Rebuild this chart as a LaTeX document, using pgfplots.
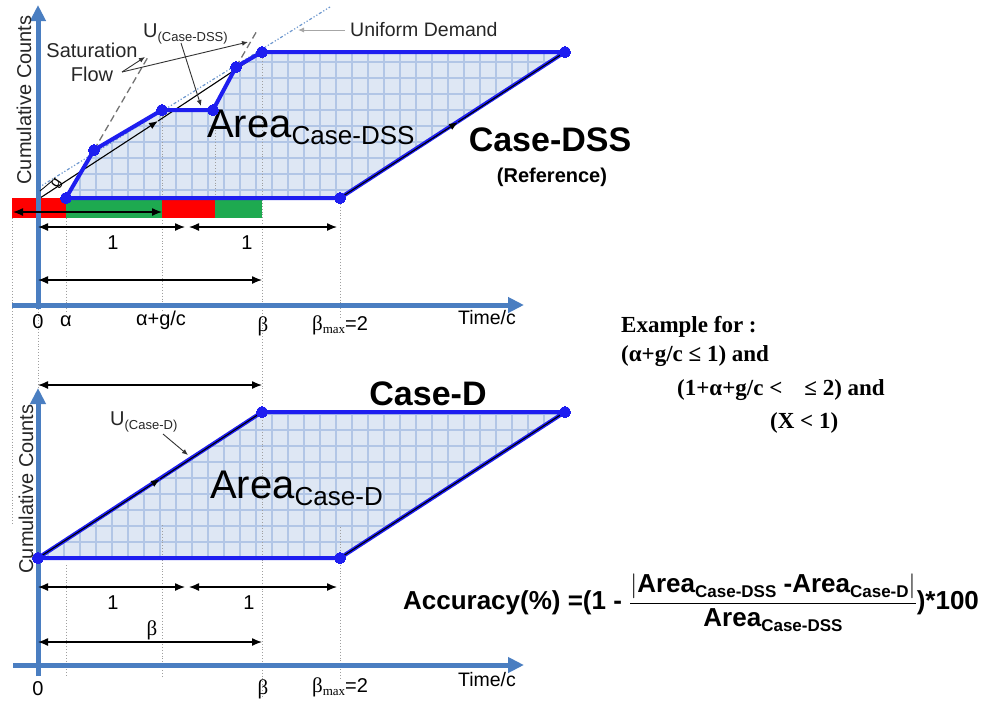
\documentclass[border=0pt]{standalone}
\usepackage{pgfplots}
\pgfplotsset{compat=1.18}
\usepackage{amsmath}
\usepackage{fontspec}
\setmainfont{Liberation Sans}
\newfontfamily\seriffont{Liberation Serif}
\usetikzlibrary{arrows.meta,patterns.meta}
\definecolor{axblue}{RGB}{74,126,193}
\definecolor{pblue}{RGB}{30,30,240}
\definecolor{lfill}{RGB}{222,231,244}
\definecolor{lgrid}{RGB}{178,198,230}
\definecolor{rred}{RGB}{255,0,0}
\definecolor{ggreen}{RGB}{30,170,80}
\newcommand{\fs}[1]{\fontsize{#1}{#1}\selectfont}
\newcommand{\subs}[1]{\raisebox{-5pt}{\fs{17}#1}}
\begin{document}
\begin{tikzpicture}
\begin{axis}[width=1000pt,height=697pt,scale only axis,
  xmin=0,xmax=1000,ymin=0,ymax=697,y dir=reverse,hide axis,clip=false,
  dimarr/.style={black,line width=1.3pt,{Latex[length=10pt,width=8pt]}-{Latex[length=10pt,width=8pt]}},
  dots/.style={gray!75,dotted,line width=0.9pt},
  axarr/.style={axblue,line width=5pt,-{Triangle[length=16pt,width=15pt]}},
  outl/.style={pblue,line width=4pt,line join=round,mark=*,mark size=5.5pt,mark options={fill=pblue,draw=pblue,line width=0pt}},
  gridfill/.style={draw=none,fill=lfill,postaction={pattern={Hatch[angle=0,distance=16pt,line width=1.1pt]},pattern color=lgrid}}]
\addplot[draw=none] coordinates {(0,0) (1000,697)};
% ---- fills ----
\addplot[gridfill] coordinates {(66,198) (94,150) (162,110) (213,110) (236,67) (262,52) (565,52) (340,198)} -- cycle;
\addplot[gridfill] coordinates {(38,558) (262,412) (565,412) (340,558)} -- cycle;
% ---- dotted guide lines ----
\addplot[dots] coordinates {(12,198) (12,525)};
\addplot[dots] coordinates {(38,300) (38,400)};
\addplot[dots] coordinates {(66,198) (66,312)};
\addplot[dots] coordinates {(162,110) (162,312)};
\addplot[dots] coordinates {(215,110) (215,200)};
\addplot[dots] coordinates {(262,52) (262,696)};
\addplot[dots] coordinates {(340,198) (340,318)};
\addplot[dots] coordinates {(66,565) (66,678)};
\addplot[dots] coordinates {(162,525) (162,678)};
\addplot[dots] coordinates {(340,527) (340,680)};
% ---- signal bars ----
\addplot[fill=rred,draw=none] coordinates {(12,198) (66,198) (66,218) (12,218)} -- cycle;
\addplot[fill=ggreen,draw=none] coordinates {(66,198) (162,198) (162,218) (66,218)} -- cycle;
\addplot[fill=rred,draw=none] coordinates {(162,198) (215,198) (215,218) (162,218)} -- cycle;
\addplot[fill=ggreen,draw=none] coordinates {(215,198) (262,198) (262,218) (215,218)} -- cycle;
% ---- uniform demand and saturation flow ----
\addplot[axblue!80,line width=1.2pt,dash dot dot] coordinates {(38,188) (330,7)};
\addplot[black!55,line width=1.3pt,dash pattern=on 7pt off 4pt] coordinates {(94,150) (148,57)};
\addplot[black!55,line width=1.3pt,dash pattern=on 7pt off 4pt] coordinates {(236,67) (258,29)};
% ---- U line top ----
\addplot[black,line width=1.1pt,-{Latex[length=9pt,width=7pt]}] coordinates {(37,200) (158,121)};
\addplot[black,line width=1.1pt] coordinates {(158,121) (262,52)};
% ---- outlines ----
\addplot[outl] coordinates {(66,198) (94,150) (162,110) (213,110) (236,67) (262,52) (565,52) (340,198) (66,198)};
\addplot[black,line width=1.1pt,-{Latex[length=9pt,width=7pt]}] coordinates {(340,198) (458,122)};
\addplot[black,line width=1.1pt] coordinates {(458,122) (565,52)};
\addplot[outl] coordinates {(38,558) (262,412) (565,412) (340,558) (38,558)};
\addplot[black,line width=1.1pt,-{Latex[length=9pt,width=7pt]}] coordinates {(38,558) (160,479)};
\addplot[black,line width=1.1pt] coordinates {(160,479) (262,412)};
\addplot[black,line width=1.1pt] coordinates {(340,558) (565,412)};
% ---- axes ----
\addplot[axarr] coordinates {(38,309) (38,5)};
\addplot[axarr] coordinates {(12,305) (524,305)};
\addplot[axarr] coordinates {(38,676) (38,388)};
\addplot[axarr] coordinates {(13,665) (524,665)};
% ---- dimension arrows ----
\addplot[dimarr] coordinates {(13,212) (162,212)};
\addplot[dimarr] coordinates {(38,227) (185,227)};
\addplot[dimarr] coordinates {(189,227) (337,227)};
\addplot[dimarr] coordinates {(38,280) (262,280)};
\addplot[dimarr] coordinates {(38,385) (262,385)};
\addplot[dimarr] coordinates {(38,587) (185,587)};
\addplot[dimarr] coordinates {(189,587) (337,587)};
\addplot[dimarr] coordinates {(38,642) (262,642)};
% ---- leaders ----
\addplot[gray!70,line width=1pt,-{Latex[length=6pt,width=5pt]}] coordinates {(345,30) (298,30)};
\addplot[black!80,line width=0.9pt,-{Latex[length=6pt,width=5pt]}] coordinates {(122,72) (145,57)};
\addplot[black!80,line width=0.9pt,-{Latex[length=6pt,width=5pt]}] coordinates {(122,72) (248,42)};
\addplot[black!80,line width=0.9pt,-{Latex[length=6pt,width=5pt]}] coordinates {(181,43) (201,106)};
\addplot[black!80,line width=0.9pt,-{Latex[length=6pt,width=5pt]}] coordinates {(163,434) (188,455)};
\addplot[black,line width=0.8pt] coordinates {(40,191) (52,181)};
% ---- texts ----
\node[rotate=90,font=\fs{20},text=black!85] at (axis cs:24,100) {Cumulative Counts};
\node[rotate=90,font=\fs{20},text=black!85] at (axis cs:26,489) {Cumulative Counts};
\node[font=\fs{20},text=black!85] at (axis cs:92,50) {Saturation};
\node[font=\fs{20},text=black!85] at (axis cs:92,74) {Flow};
\node[anchor=base west,inner sep=0pt,text=black!85] at (axis cs:143,37) {\fs{20}U\raisebox{-4pt}{\fs{13}(Case-DSS)}};
\node[anchor=west,inner sep=0pt,font=\fs{19.5},text=black!85] at (axis cs:350,30) {Uniform Demand};
\node[rotate=55,font=\fs{15}] at (axis cs:57,184) {g};
\node[anchor=base west,inner sep=0pt] at (axis cs:207,137) {\fs{40}Area\raisebox{-7pt}{\fs{26}Case-DSS}};
\node[anchor=base west,inner sep=0pt] at (axis cs:210,498) {\fs{40}Area\raisebox{-7pt}{\fs{26}Case-D}};
\node[font=\bfseries\fs{34}] at (axis cs:550,140) {Case-DSS};
\node[font=\bfseries\fs{20}] at (axis cs:552,177) {(Reference)};
\node[font=\bfseries\fs{34}] at (axis cs:428,394) {Case-D};
\node[anchor=base west,inner sep=0pt,text=black!85] at (axis cs:110,425) {\fs{20}U\raisebox{-4pt}{\fs{13}(Case-D)}};
% ticks / labels top
\node[font=\fs{20}] at (axis cs:113,243) {1};
\node[font=\fs{20}] at (axis cs:247,243) {1};
\node[font=\fs{20}] at (axis cs:38,322) {0};
\node[font=\fs{20}] at (axis cs:66,321) {α};
\node[font=\fs{20}] at (axis cs:161,320) {α+g/c};
\node[font=\seriffont\fs{21}] at (axis cs:263,326) {β};
\node[anchor=base,inner sep=0pt] at (axis cs:340,330) {{\seriffont\fs{21}β\raisebox{-3pt}{\fs{13}max}}\fs{20}=2};
\node[font=\fs{19.5}] at (axis cs:487,318) {Time/c};
% ticks / labels bottom
\node[font=\fs{20}] at (axis cs:113,603) {1};
\node[font=\fs{20}] at (axis cs:249,603) {1};
\node[font=\seriffont\fs{21}] at (axis cs:152,630) {β};
\node[font=\fs{20}] at (axis cs:38,689) {0};
\node[font=\seriffont\fs{21}] at (axis cs:263,689) {β};
\node[anchor=base,inner sep=0pt] at (axis cs:340,692) {{\seriffont\fs{21}β\raisebox{-3pt}{\fs{13}max}}\fs{20}=2};
\node[font=\fs{19.5}] at (axis cs:487,680) {Time/c};
% right side text
\node[anchor=west,inner sep=0pt,font=\seriffont\bfseries\fs{23}] at (axis cs:621,327) {Example for :};
\node[anchor=west,inner sep=0pt,font=\seriffont\bfseries\fs{23}] at (axis cs:621,356) {(α+g/c ≤ 1) and};
\node[anchor=west,inner sep=0pt,font=\seriffont\bfseries\fs{23}] at (axis cs:677,390) {(1+α+g/c <\hspace{22pt}≤ 2) and};
\node[anchor=west,inner sep=0pt,font=\seriffont\bfseries\fs{23}] at (axis cs:770,423) {(X < 1)};
\node[font=\bfseries\fs{26}] at (axis cs:691,603) {Accuracy(\%) =(1 - $\displaystyle\frac{\left|\mbox{Area\subs{Case-DSS} -Area\subs{Case-D}}\right|}{\mbox{Area\subs{Case-DSS}}}$)*100};
\end{axis}
\end{tikzpicture}
\end{document}
